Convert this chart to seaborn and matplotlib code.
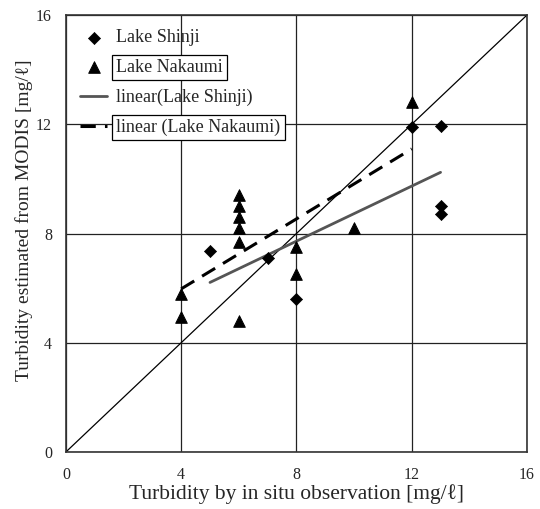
import numpy as np
import pandas as pd
import seaborn as sns
import matplotlib.pyplot as plt

# in situ vs MODIS turbidity [mg/l]
shinji_x = [5, 7, 8, 12, 13, 13, 13]
shinji_y = [7.35, 7.1, 5.6, 11.9, 11.95, 9.0, 8.7]
nakaumi_x = [4, 4, 6, 6, 6, 6, 6, 6, 8, 8, 10, 12]
nakaumi_y = [5.8, 4.95, 9.4, 9.0, 8.6, 8.2, 7.7, 4.8, 7.5, 6.5, 8.2, 12.8]
ticks = [0, 4, 8, 12, 16]

df_s = pd.DataFrame({'x': shinji_x, 'y': shinji_y})
df_n = pd.DataFrame({'x': nakaumi_x, 'y': nakaumi_y})

sns.set_style('white')
plt.rcParams['font.family'] = ['Liberation Serif', 'DejaVu Serif']

fig = plt.figure(figsize=(5.4, 5.09), dpi=100)
ax = fig.add_axes([0.122, 0.112, 0.854, 0.8585])

# 1:1 line
ax.plot([0, 16], [0, 16], color='black', lw=0.9, zorder=2)

sns.scatterplot(data=df_s, x='x', y='y', marker='D', color='black', s=38,
                edgecolor='black', label='Lake Shinji', ax=ax, zorder=4)
sns.scatterplot(data=df_n, x='x', y='y', marker='^', color='black', s=70,
                edgecolor='black', label='Lake Nakaumi', ax=ax, zorder=4)
sns.regplot(data=df_s, x='x', y='y', scatter=False, ci=None, ax=ax,
            label='linear(Lake Shinji)',
            line_kws={'color': '#555555', 'lw': 2.0, 'zorder': 3})
sns.regplot(data=df_n, x='x', y='y', scatter=False, ci=None, ax=ax,
            label='linear (Lake Nakaumi)',
            line_kws={'color': 'black', 'lw': 2.2, 'ls': (0, (5, 3)), 'zorder': 3})

ax.set_xlim(0, 16)
ax.set_ylim(0, 16)
ax.set_xticks(ticks)
ax.set_yticks(ticks)
ax.grid(True, color='#222222', lw=0.9)
for s in ax.spines.values():
    s.set_color('#333333')
    s.set_linewidth(1.2)
ax.tick_params(axis='x', length=0, pad=11, labelsize=11.5)
ax.tick_params(axis='y', length=0, pad=10, labelsize=11.5)

ax.set_xlabel('Turbidity by in situ observation [mg/ℓ]', fontsize=15.5, labelpad=1)
ax.set_ylabel('Turbidity estimated from MODIS [mg/ℓ]', fontsize=14)
ax.yaxis.set_label_coords(-0.072, 0.53)

leg = ax.legend(loc='upper left', bbox_to_anchor=(0.0, 1.0), frameon=False,
                fontsize=13, labelspacing=0.7, handlelength=1.5,
                handletextpad=0.5, borderaxespad=0.4)
for i, t in enumerate(leg.get_texts()):
    if i in (1, 3):
        t.set_bbox(dict(facecolor='white', edgecolor='black', pad=3, lw=0.9))

fig.savefig('out.png', dpi=100)
